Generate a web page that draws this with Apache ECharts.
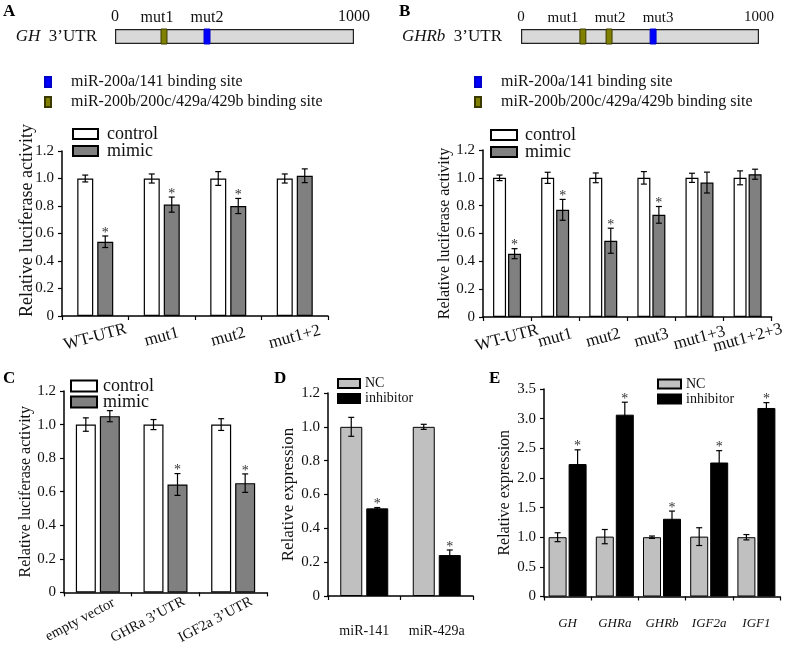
<!DOCTYPE html>
<html><head><meta charset="utf-8">
<script src="https://cdn.jsdelivr.net/npm/echarts@6/dist/echarts.min.js"></script>
<style>html,body{margin:0;padding:0;background:#fff}#c{width:787px;height:647px}</style>
</head><body><div id="c"></div>
<script>
// ---------------- data ----------------
const utrLength = 1000;
const geneA = 'GH';
const siteNamesA = ['mut1', 'mut2'];
const sitePosA = [205, 385];
const siteTypeA = ['b', 'a'];          // a: miR-200a/141, b: miR-200b/200c/429a/429b
const geneB = 'GHRb';
const siteNamesB = ['mut1', 'mut2', 'mut3'];
const sitePosB = [260, 370, 555];
const siteTypeB = ['b', 'b', 'a'];
const siteLegendA = 'miR-200a/141 binding site';
const siteLegendB = 'miR-200b/200c/429a/429b binding site';

const catA = ['WT-UTR', 'mut1', 'mut2', 'mut1+2'];
const ctrlA = [1.0, 1.0, 1.0, 1.0];
const ctrlErrA = [0.025, 0.033, 0.05, 0.033];
const mimA = [0.54, 0.81, 0.80, 1.02];
const mimErrA = [0.042, 0.055, 0.055, 0.05];
const starA = [1, 1, 1, 0];

const catB = ['WT-UTR', 'mut1', 'mut2', 'mut3', 'mut1+3', 'mut1+2+3'];
const ctrlB = [1.0, 1.0, 1.0, 1.0, 1.0, 1.0];
const ctrlErrB = [0.02, 0.04, 0.035, 0.045, 0.033, 0.05];
const mimB = [0.455, 0.77, 0.548, 0.734, 0.966, 1.026];
const mimErrB = [0.036, 0.075, 0.09, 0.06, 0.075, 0.036];
const starB = [1, 1, 1, 1, 0, 0];

const catC = ['empty vector', 'GHRa 3\u2019UTR', 'IGF2a 3\u2019UTR'];
const ctrlC = [1.0, 1.0, 1.0];
const ctrlErrC = [0.04, 0.03, 0.035];
const mimC = [1.05, 0.643, 0.651];
const mimErrC = [0.033, 0.065, 0.055];
const starC = [0, 1, 1];

const catD = ['miR-141', 'miR-429a'];
const ncD = [1.0, 1.0];
const ncErrD = [0.056, 0.015];
const inhD = [0.518, 0.242];
const inhErrD = [0.005, 0.03];
const starD = [1, 1];

const catE = ['GH', 'GHRa', 'GHRb', 'IGF2a', 'IGF1'];
const ncE = [1.0, 1.01, 1.0, 1.01, 1.0];
const ncErrE = [0.075, 0.12, 0.02, 0.15, 0.045];
const inhE = [2.234, 3.067, 1.311, 2.26, 3.18];
const inhErrE = [0.24, 0.21, 0.13, 0.2, 0.09];
const starE = [1, 1, 1, 1, 1];

const ticksLuc = [0, 1.2, 0.2];   // min, max, interval
const ticksD = [0, 1.2, 0.2];
const ticksE = [0, 3.5, 0.5];

// ---------------- styles / layout ----------------
const serif = '"Liberation Serif", "Times New Roman", serif';
const ink = '#111';
const labelDxA = [-7, 0];        // site label nudges (px)
const labelDxB = [-20, 1, 5];
const chart = echarts.init(document.getElementById('c'), null, {renderer: 'canvas'});

const grids = [
  {left: 62, top: 151, width: 266, height: 165},   // 0 A
  {left: 483, top: 150, width: 289, height: 167},  // 1 B
  {left: 64, top: 391, width: 203, height: 205},   // 2 C
  {left: 328, top: 393, width: 145, height: 203},  // 3 D
  {left: 544, top: 389, width: 236, height: 207.5},// 4 E
  {left: 115, top: 29, width: 239, height: 15},    // 5 GH diagram
  {left: 521, top: 29, width: 238, height: 15}     // 6 GHRb diagram
];

function yAx(g, t, name, gap, size, pad, noMove) {
  const ax = {
    type: 'value', gridIndex: g, min: t[0], max: t[1], interval: t[2],
    name: name, nameLocation: 'middle', nameGap: gap,
    nameTextStyle: {fontFamily: serif, fontSize: size, color: ink, padding: pad || 0},
    axisLine: {show: true, lineStyle: {color: '#000', width: 1.5}},
    axisTick: {show: true, length: 4, lineStyle: {color: '#000', width: 1.2}},
    splitLine: {show: false},
    axisLabel: {fontFamily: serif, fontSize: 15, color: ink, margin: 8,
      formatter: v => v === 0 ? '0' : v.toFixed(1)}
  };
  if (noMove) ax.nameMoveOverlap = false;
  return ax;
}
function xAx(g, cats, label) {
  return {
    type: 'category', gridIndex: g, data: cats,
    axisLine: {show: true, lineStyle: {color: '#000', width: 1.5}},
    axisTick: {show: true, length: 4, lineStyle: {color: '#000', width: 1.2}},
    axisLabel: Object.assign({interval: 0, fontFamily: serif, color: ink}, label)
  };
}

function errRender(off) {
  return function (params, api) {
    const c = api.value(0), v = api.value(1), e = api.value(2), s = api.value(3);
    const x = api.coord([c, v])[0] + off;
    const yt = api.coord([c, v + e])[1], yb = api.coord([c, v - e])[1];
    const st = {stroke: '#000', lineWidth: 1.2};
    const ch = [
      {type: 'line', shape: {x1: x, y1: yt, x2: x, y2: yb}, style: st},
      {type: 'line', shape: {x1: x - 3, y1: yt, x2: x + 3, y2: yt}, style: st},
      {type: 'line', shape: {x1: x - 3, y1: yb, x2: x + 3, y2: yb}, style: st}
    ];
    if (s) ch.push({type: 'text', style: {text: '*', x: x, y: yt + 4, align: 'center',
      verticalAlign: 'bottom', fontSize: 14, fontFamily: serif, fill: '#333'}});
    return {type: 'group', children: ch};
  };
}

function barPair(g, names, styles, v1, e1, v2, e2, stars, bw, gap) {
  const off = (bw + gap) / 2;
  const common = {xAxisIndex: g, yAxisIndex: g, barWidth: bw, barGap: (gap / bw * 100) + '%'};
  return [
    Object.assign({type: 'bar', name: names[0], data: v1, itemStyle: styles[0]}, common),
    Object.assign({type: 'bar', name: names[1], data: v2, itemStyle: styles[1]}, common),
    {type: 'custom', xAxisIndex: g, yAxisIndex: g, z: 10, renderItem: errRender(-off),
      data: v1.map((v, k) => [k, v, e1[k], 0])},
    {type: 'custom', xAxisIndex: g, yAxisIndex: g, z: 10, renderItem: errRender(off),
      data: v2.map((v, k) => [k, v, e2[k], stars[k]])}
  ];
}

const stCtrl = {color: '#ffffff', borderColor: '#000', borderWidth: 1.2};
const stMim = {color: '#808080', borderColor: '#000', borderWidth: 1.2};
const stNC = {color: '#c0c0c0', borderColor: '#000', borderWidth: 1};
const stInh = {color: '#000000', borderColor: '#000', borderWidth: 1};

// diagram site series
const siteW = 25;
function siteSeries(g, names, pos, types, dx, fs, type, sname, color, border) {
  const idx = types.map((t, k) => t === type ? k : -1).filter(k => k >= 0);
  return {
    type: 'custom', name: sname, xAxisIndex: g, yAxisIndex: g, z: 10,
    itemStyle: {color: color, borderColor: border, borderWidth: 1},
    data: idx.map(k => [pos[k], 0]),
    renderItem: function (params, api) {
      const k = idx[params.dataIndex];
      const x = api.value(0);
      const p0 = api.coord([x - siteW / 2, 0]);
      const p1 = api.coord([x + siteW / 2, 0]);
      const h = api.size([0, 1])[1];
      return {type: 'group', children: [
        {type: 'rect', shape: {x: p0[0], y: p0[1] - h / 2, width: p1[0] - p0[0], height: h},
          style: {fill: color, stroke: border, lineWidth: 1}},
        {type: 'text', style: {text: names[k], x: (p0[0] + p1[0]) / 2 + dx[k],
          y: p0[1] - h / 2 - 3, align: 'center', verticalAlign: 'bottom',
          fontSize: fs, fontFamily: serif, fill: ink}}
      ]};
    }
  };
}
function diagramAxes(g, gene, margin, fs) {
  return {
    x: {type: 'value', gridIndex: g, min: 0, max: utrLength, interval: utrLength, position: 'top',
      axisLine: {show: false}, axisTick: {show: false}, splitLine: {show: false},
      axisLabel: {fontFamily: serif, fontSize: fs, color: ink, margin: 4, formatter: v => String(v)}},
    y: {type: 'category', gridIndex: g, data: [gene],
      axisLine: {show: false}, axisTick: {show: false},
      axisLabel: {margin: margin, formatter: v => '{i|' + v + '}  3\u2019UTR',
        rich: {i: {fontStyle: 'italic', fontFamily: serif, fontSize: 17, color: ink}},
        fontFamily: serif, fontSize: 17, color: ink}}
  };
}
const dA = diagramAxes(5, geneA, 18, 16), dB = diagramAxes(6, geneB, 19, 15);

const rotLabel = {fontSize: 17, rotate: 15, align: 'center', verticalAlign: 'middle', margin: 21};

const legendBase = {orient: 'vertical', icon: 'rect', selectedMode: false, padding: 0};
function leg(o) { return Object.assign({}, legendBase, o); }

const option = {
  animation: false,
  backgroundColor: '#fff',
  grid: grids,
  xAxis: [
    xAx(0, catA, rotLabel),
    xAx(1, catB, rotLabel),
    xAx(2, catC, {fontSize: 14.5, rotate: 28, align: 'center', verticalAlign: 'middle', margin: 18, padding: [0, 40, 0, 0]}),
    xAx(3, catD, {fontSize: 14, margin: 28}),
    xAx(4, catE, {fontSize: 13, fontStyle: 'italic', margin: 21}),
    dA.x, dB.x
  ],
  yAxis: [
    yAx(0, ticksLuc, 'Relative luciferase activity', 26, 18, [0, 0, 0, 26], true),
    yAx(1, ticksLuc, 'Relative luciferase activity', 29, 16),
    yAx(2, ticksLuc, 'Relative luciferase activity', 21, 16),
    yAx(3, ticksD, 'Relative expression', 27, 17),
    yAx(4, ticksE, 'Relative expression', 31, 16),
    dA.y, dB.y
  ],
  legend: [
    leg({left: 72, top: 125, itemWidth: 25, itemHeight: 10, itemGap: -1, data: ['control', 'mimic'],
      textStyle: {fontFamily: serif, fontSize: 18, color: ink, padding: [0, 0, 0, 4]}}),
    leg({left: 490, top: 126, itemWidth: 26, itemHeight: 10, itemGap: -1, data: ['control', 'mimic'],
      textStyle: {fontFamily: serif, fontSize: 18, color: ink, padding: [0, 0, 0, 3]}}),
    leg({left: 70, top: 377, itemWidth: 26, itemHeight: 11, itemGap: -2, data: ['control', 'mimic'],
      textStyle: {fontFamily: serif, fontSize: 18, color: ink, padding: [0, 0, 0, 1]}}),
    leg({left: 337, top: 376.5, itemWidth: 22, itemHeight: 9, itemGap: 1, data: ['NC', 'inhibitor'],
      textStyle: {fontFamily: serif, fontSize: 14, color: ink}}),
    leg({left: 657, top: 377, itemWidth: 23, itemHeight: 9, itemGap: 1, data: ['NC', 'inhibitor'],
      textStyle: {fontFamily: serif, fontSize: 14, color: ink}}),
    leg({left: 44, top: 74, itemWidth: 6, itemHeight: 10, itemGap: 4, data: [siteLegendA, siteLegendB],
      textStyle: {fontFamily: serif, fontSize: 16, lineHeight: 15, color: ink, padding: [0, 0, 0, 15]}}),
    leg({left: 474, top: 74, itemWidth: 6, itemHeight: 10, itemGap: 4, data: [siteLegendA, siteLegendB],
      textStyle: {fontFamily: serif, fontSize: 16, lineHeight: 15, color: ink, padding: [0, 0, 0, 15]}})
  ],
  graphic: [
    ['A', 3, 3], ['B', 399, 3], ['C', 3, 370], ['D', 274, 370], ['E', 489, 370]
  ].map(p => ({type: 'text', left: p[1], top: p[2],
    style: {text: p[0], fontFamily: serif, fontWeight: 'bold', fontSize: 17, fill: '#000'}})),
  series: [].concat(
    barPair(0, ['control', 'mimic'], [stCtrl, stMim], ctrlA, ctrlErrA, mimA, mimErrA, starA, 16, 4),
    barPair(1, ['control', 'mimic'], [stCtrl, stMim], ctrlB, ctrlErrB, mimB, mimErrB, starB, 13, 2),
    barPair(2, ['control', 'mimic'], [stCtrl, stMim], ctrlC, ctrlErrC, mimC, mimErrC, starC, 20, 4),
    barPair(3, ['NC', 'inhibitor'], [stNC, stInh], ncD, ncErrD, inhD, inhErrD, starD, 22, 4),
    barPair(4, ['NC', 'inhibitor'], [stNC, stInh], ncE, ncErrE, inhE, inhErrE, starE, 18, 2),
    [
      {type: 'bar', name: 'UTR', xAxisIndex: 5, yAxisIndex: 5, data: [utrLength], barWidth: 15,
        itemStyle: {color: '#d9d9d9', borderColor: '#222', borderWidth: 1.2}},
      {type: 'bar', name: 'UTR', xAxisIndex: 6, yAxisIndex: 6, data: [utrLength], barWidth: 15,
        itemStyle: {color: '#d9d9d9', borderColor: '#222', borderWidth: 1.2}},
      siteSeries(5, siteNamesA, sitePosA, siteTypeA, labelDxA, 16, 'a', siteLegendA, '#0000ff', '#0000cc'),
      siteSeries(5, siteNamesA, sitePosA, siteTypeA, labelDxA, 16, 'b', siteLegendB, '#808000', '#3a3a00'),
      siteSeries(6, siteNamesB, sitePosB, siteTypeB, labelDxB, 15, 'a', siteLegendA, '#0000ff', '#0000cc'),
      siteSeries(6, siteNamesB, sitePosB, siteTypeB, labelDxB, 15, 'b', siteLegendB, '#808000', '#3a3a00')
    ]
  )
};
chart.setOption(option);
</script></body></html>
